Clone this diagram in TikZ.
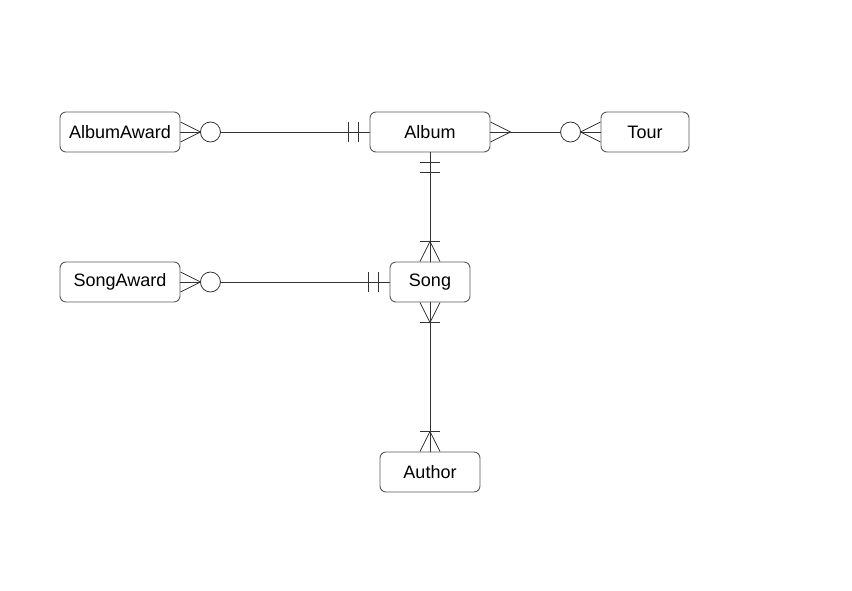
\documentclass[tikz,border=0pt]{standalone}
\usepackage{fontspec}
\setmainfont{Liberation Sans}
\usetikzlibrary{calc}
\definecolor{boxline}{HTML}{5A5A5A}
\definecolor{relline}{HTML}{333333}
\begin{document}
\begin{tikzpicture}[x=1pt,y=-1pt,
  entity/.style={draw=boxline,line width=0.9pt,rounded corners=6pt,fill=white,
    minimum height=40pt,inner sep=0pt,font=\fontsize{18}{20}\selectfont},
  rel/.style={draw=relline,line width=0.8pt}]
\useasboundingbox (0,0) rectangle (852,590);
% entities
\node [entity,minimum width=120pt] (albumaward) at (120,132) {AlbumAward};
\node [entity,minimum width=120pt] (album) at (430,132) {Album};
\node [entity,minimum width=88pt] (tour) at (645,132) {Tour};
\node [entity,minimum width=120pt] (songaward) at (120,282) {SongAward};
\node [entity,minimum width=80pt] (song) at (430,282) {Song};
\node [entity,minimum width=100pt] (author) at (430,472) {Author};
% AlbumAward -- Album
\draw [rel] (albumaward.east) -- (album.west);
\draw [rel] (albumaward.east) ++(0,-10) -- ++(20,10) -- ++(-20,10);
\draw [rel,fill=white] ($(albumaward.east)+(30,0)$) circle (10pt);
\draw [rel] ($(album.west)+(-11,-10)$) -- ++(0,20);
\draw [rel] ($(album.west)+(-21,-10)$) -- ++(0,20);
% Album -- Tour
\draw [rel] (album.east) -- (tour.west);
\draw [rel] (album.east) ++(0,-10) -- ++(20,10) -- ++(-20,10);
\draw [rel] (tour.west) ++(0,-10) -- ++(-20,10) -- ++(20,10);
\draw [rel,fill=white] ($(tour.west)+(-30,0)$) circle (10pt);
% Album -- Song
\draw [rel] (album.south) -- (song.north);
\draw [rel] ($(album.south)+(-10,10)$) -- ++(20,0);
\draw [rel] ($(album.south)+(-10,20)$) -- ++(20,0);
\draw [rel] (song.north) ++(-10,0) -- ++(10,-20) -- ++(10,20);
\draw [rel] ($(song.north)+(-10,-20)$) -- ++(20,0);
% SongAward -- Song
\draw [rel] (songaward.east) -- (song.west);
\draw [rel] (songaward.east) ++(0,-10) -- ++(20,10) -- ++(-20,10);
\draw [rel,fill=white] ($(songaward.east)+(30,0)$) circle (10pt);
\draw [rel] ($(song.west)+(-11,-10)$) -- ++(0,20);
\draw [rel] ($(song.west)+(-21,-10)$) -- ++(0,20);
% Song -- Author
\draw [rel] (song.south) -- (author.north);
\draw [rel] (song.south) ++(-10,0) -- ++(10,20) -- ++(10,-20);
\draw [rel] ($(song.south)+(-10,20)$) -- ++(20,0);
\draw [rel] (author.north) ++(-10,0) -- ++(10,-20) -- ++(10,20);
\draw [rel] ($(author.north)+(-10,-20)$) -- ++(20,0);
\end{tikzpicture}
\end{document}
